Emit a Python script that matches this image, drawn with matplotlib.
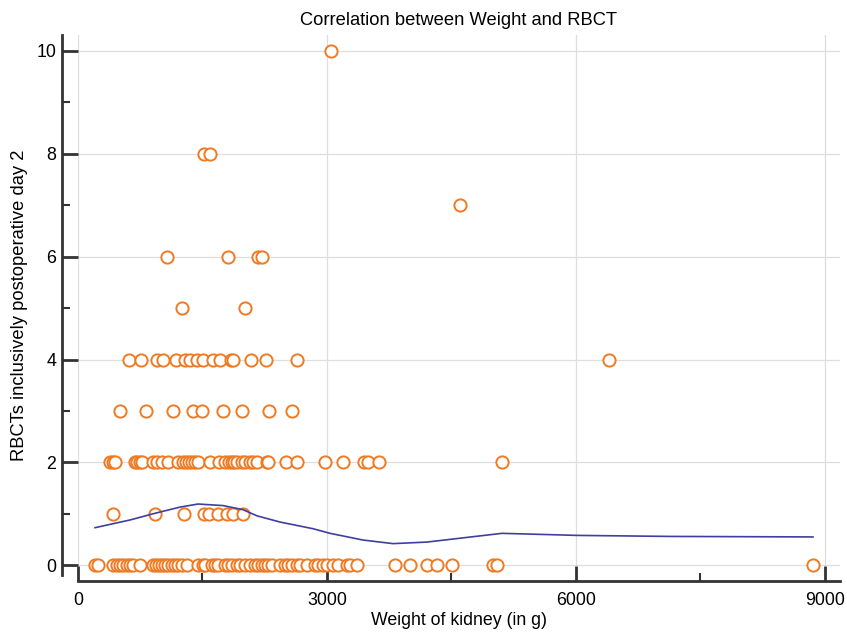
import matplotlib.pyplot as plt
import numpy as np

plt.rcParams["font.family"] = ["Liberation Sans", "DejaVu Sans"]

# Weight of kidney (g) for each RBCT count
weight_0 = [205, 245, 425, 466, 506, 546, 587, 627, 667, 747, 907, 940, 972, 1009,
            1048, 1088, 1129, 1169, 1209, 1249, 1310, 1450, 1510, 1530, 1611, 1651,
            1691, 1771, 1811, 1852, 1912, 1952, 2012, 2073, 2133, 2173, 2213, 2253,
            2293, 2334, 2434, 2494, 2534, 2575, 2635, 2675, 2756, 2856, 2896, 2956,
            2997, 3077, 3137, 3238, 3278, 3358, 3820, 4000, 4202, 4322, 4503, 4997,
            5053, 8857]
weight_1 = [418, 928, 1281, 1518, 1582, 1691, 1792, 1864, 1985]
weight_2 = [386, 425, 446, 687, 715, 747, 768, 907, 956, 1009, 1088, 1209, 1269,
            1301, 1341, 1370, 1410, 1450, 1591, 1703, 1771, 1823, 1852, 1880, 1912,
            1973, 2012, 2073, 2112, 2153, 2274, 2293, 2506, 2643, 2976, 3190, 3446,
            3498, 3631, 5109]
weight_3 = [506, 819, 1141, 1382, 1491, 1744, 1973, 2306, 2575]
weight_4 = [618, 759, 948, 1020, 1177, 1289, 1350, 1430, 1503, 1631, 1711, 1840,
            1864, 2085, 2265, 2643, 6399]
weight_5 = [1253, 2012]
weight_6 = [1072, 1808, 2169, 2217]
weight_7 = [4603]
weight_8 = [1518, 1591]
weight_10 = [3049]

# smoothed trend line
trend_x = [205, 627, 928, 1229, 1446, 1747, 1988, 2157, 2434, 2832, 3037, 3434,
           3639, 3796, 4203, 5109, 6013, 7134, 8857]
trend_y = [0.73, 0.88, 1.01, 1.13, 1.19, 1.16, 1.08, 0.96, 0.84, 0.71, 0.62, 0.49,
           0.45, 0.42, 0.45, 0.62, 0.58, 0.56, 0.55]

groups = [(weight_0, 0), (weight_1, 1), (weight_2, 2), (weight_3, 3), (weight_4, 4),
          (weight_5, 5), (weight_6, 6), (weight_7, 7), (weight_8, 8), (weight_10, 10)]

fig = plt.figure(figsize=(8.47, 6.32), dpi=100)
ax = fig.add_axes([0.0921, 0.0902, 0.8996, 0.8544])

ax.grid(True, color="#dedede", linewidth=0.9)
ax.set_axisbelow(True)

for xs, yv in groups:
    ax.plot(xs, [yv] * len(xs), "o", markersize=8.8, markerfacecolor="white",
            markeredgecolor="#F07A22", markeredgewidth=1.4, linestyle="none", zorder=3)

ax.plot(trend_x, trend_y, color="#3F3F9F", linewidth=1.2, zorder=4)

ax.set_xlim(0, 9182)
ax.set_ylim(-0.19, 10.31)
ax.set_xticks([0, 3000, 6000, 9000])
ax.set_xticks([1500, 4500, 7500], minor=True)
ax.set_yticks([0, 2, 4, 6, 8, 10])
ax.set_yticks([1, 3, 5, 7, 9], minor=True)

for s in ["top", "right"]:
    ax.spines[s].set_visible(False)
ax.spines["left"].set_position(("outward", 11.5))
ax.spines["bottom"].set_position(("outward", 4.3))
for s in ["left", "bottom"]:
    ax.spines[s].set_linewidth(2)
    ax.spines[s].set_color("#333333")

ax.tick_params(which="major", direction="in", length=11, width=2, color="#333333",
               labelsize=12.8, pad=8)
ax.tick_params(which="minor", direction="in", length=5.5, width=1.5, color="#333333")
ax.tick_params(axis="y", which="major", length=11.5, pad=4)

ax.set_title("Correlation between Weight and RBCT", fontsize=13.2, pad=7)
ax.set_xlabel("Weight of kidney (in g)", fontsize=12.8, labelpad=2)
ax.set_ylabel("RBCTs inclusively postoperative day 2", fontsize=13.2, labelpad=6)

fig.savefig("out.png", dpi=100)
